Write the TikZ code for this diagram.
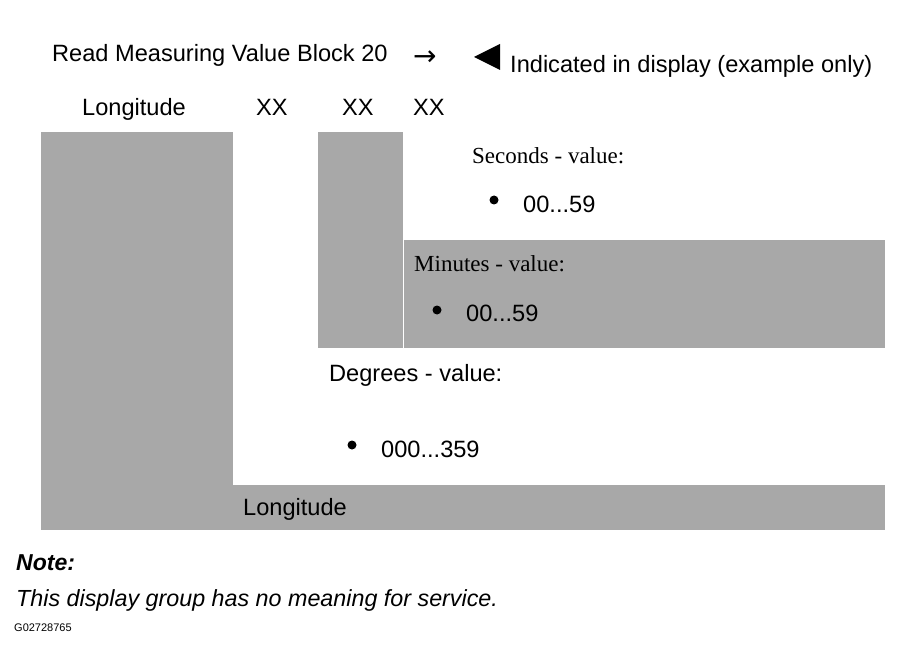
\documentclass[tikz,border=0pt]{standalone}
\usepackage{fontspec}
\setmainfont{Liberation Sans}
\newfontfamily\serifface{Liberation Serif}
\newfontfamily\symface{DejaVu Sans}
\definecolor{panel}{gray}{0.66}
\begin{document}
\begin{tikzpicture}[x=1pt,y=-1pt]
\tikzstyle{every node}=[inner sep=0pt,anchor=base west]
\tikzstyle{label}=[font=\fontsize{23.6}{27}\selectfont]
\tikzstyle{serif label}=[font=\fontsize{23}{27}\selectfont\serifface]
\tikzstyle{dot}=[fill=black]
\useasboundingbox (0,0) rectangle (900,663);
% grey fields
\fill[panel] (41,132) rectangle (233,530);
\fill[panel] (233,485) rectangle (885,530);
\fill[panel] (318,132) rectangle (403,348);
\fill[panel] (403,240) rectangle (885,348);
\draw[white,line width=1] (403,240) -- (403,348);
% heading
\node[label] (head) at (52,62) {Read Measuring Value Block 20};
\node[font=\fontsize{28}{30}\selectfont\symface] (arrow) at (413,66) {→};
\fill (474,57) -- (500,44) -- (500,70) -- cycle;
\node[label] (hint) at (510,73) {Indicated in display (example only)};
\node[label] (lon) at (82,116) {Longitude};
\node[label] (xx1) at (256,116) {XX};
\node[label] (xx2) at (342,116) {XX};
\node[label] (xx3) at (413,116) {XX};
% values
\node[serif label] (sec) at (472,164) {Seconds - value:};
\fill[dot] (494,200) circle (4.5);
\node[label] (secval) at (523,213) {00...59};
\node[serif label] (min) at (414,272) {Minutes - value:};
\fill[dot] (437,310) circle (4.5);
\node[label] (minval) at (466,321) {00...59};
\node[label] (deg) at (329,381) {Degrees - value:};
\fill[dot] (352,445) circle (4.5);
\node[label] (degval) at (381,457) {000...359};
\node[label] (lonbar) at (243,515) {Longitude};
% note
\node[font=\fontsize{23}{27}\selectfont\bfseries\itshape] (note) at (16,570) {Note:};
\node[font=\fontsize{23.3}{28}\selectfont\itshape] (notetext) at (16,606) {This display group has no meaning for service.};
\node[font=\fontsize{11}{13}\selectfont] (code) at (14,631) {G02728765};
\end{tikzpicture}
\end{document}
